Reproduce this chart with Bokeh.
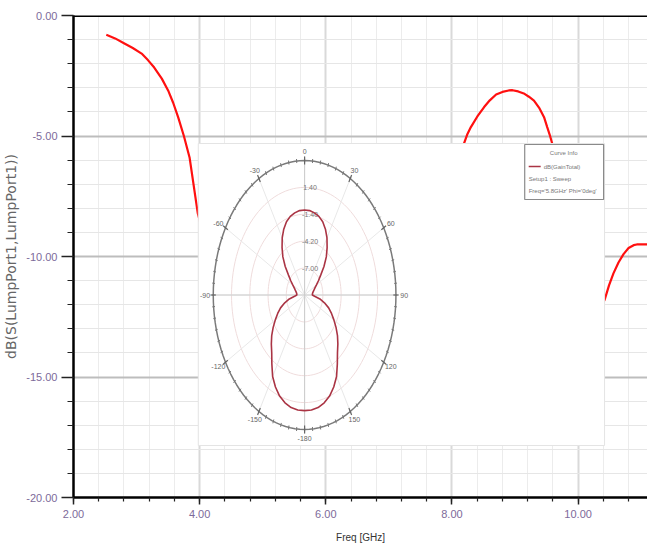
import numpy as np
from bokeh.plotting import figure
from bokeh.models import Range1d, FixedTicker, Span
from bokeh.core.properties import value
from bokeh.embed import file_html
from bokeh.resources import INLINE

# ---------------- main S11 sweep ----------------
freq_ghz = [2.52, 2.66, 2.80, 2.94, 3.08, 3.18, 3.28, 3.40, 3.50, 3.58, 3.66, 3.75, 3.84, 3.97,
            4.30, 4.80, 5.40, 5.80, 6.30, 6.80, 7.30, 7.80,
            8.19, 8.24, 8.30, 8.40, 8.51, 8.60, 8.70, 8.80, 8.90, 8.96, 9.05, 9.15, 9.22,
            9.30, 9.38, 9.46, 9.51, 9.55, 9.59,
            9.80, 10.00, 10.20, 10.30, 10.42, 10.49, 10.56, 10.64, 10.72, 10.80, 10.88, 10.93, 11.10]
s11_db = [-0.80, -0.95, -1.15, -1.35, -1.58, -1.85, -2.16, -2.62, -3.11, -3.62, -4.23, -5.00, -5.89, -8.20,
          -11.5, -15.0, -16.5, -16.8, -15.0, -12.0, -9.0, -6.8,
          -5.32, -4.95, -4.63, -4.20, -3.80, -3.52, -3.28, -3.17, -3.11, -3.10, -3.15, -3.25, -3.37,
          -3.53, -3.82, -4.22, -4.63, -4.95, -5.32,
          -7.2, -10.0, -12.2, -12.3, -11.8, -11.2, -10.7, -10.25, -9.9, -9.65, -9.53, -9.5, -9.5]

x_ticks = [2, 4, 6, 8, 10]
x_tick_labels = ["2.00", "4.00", "6.00", "8.00", "10.00"]
y_ticks = [0, -5, -10, -15, -20]
y_tick_labels = ["0.00", "-5.00", "-10.00", "-15.00", "-20.00"]

# ---------------- inset radiation pattern ----------------
theta_deg = list(range(-180, 181, 5))
gain_db = [2.24, 2.21, 2.10, 1.82, 1.40, 0.77, 0.00, -1.05, -1.96, -2.59, -3.22, -3.92,
           -4.62, -5.25, -5.88, -6.65, -7.42, -8.26, -8.61, -8.60, -8.54, -8.43, -8.26, -8.05,
           -7.70, -7.21, -6.58, -5.60, -4.62, -3.78, -2.94, -2.24, -1.68, -1.33, -1.12, -0.98,
           -0.95,
           -0.98, -1.12, -1.33, -1.68, -2.24, -2.94, -3.78, -4.62, -5.60, -6.58, -7.21, -7.70,
           -8.05, -8.26, -8.43, -8.54, -8.60, -8.61, -8.26, -7.42, -6.65, -5.88, -5.25, -4.62,
           -3.92, -3.22, -2.59, -1.96, -1.05, 0.00, 0.77, 1.40, 1.82, 2.10, 2.21, 2.24]
r_min_db, r_max_db = -9.80, 4.20
ring_values = [-7.00, -4.20, -1.40, 1.40]
ring_labels = ["-7.00", "-4.20", "-1.40", "1.40"]
angle_ticks = [0, 30, 60, 90, 120, 150, 180, -150, -120, -90, -60, -30]
angle_labels = ["0", "30", "60", "90", "120", "150", "-180", "-150", "-120", "-90", "-60", "-30"]
legend_lines = ["dB(GainTotal)", "Setup1 : Sweep", "Freq='5.8GHz' Phi='0deg'"]

# ---------------- layout constants (screen px) ----------------
FR_L, FR_R, FR_T, FR_B = 72, 647, 15, 497
CX, CY, RX, RY = 303.5, 294.5, 91.5, 134.5
SANS = "Liberation Sans"

p = figure(width=647, height=548,
           x_range=Range1d(2, 11.1), y_range=Range1d(-20, 0),
           output_backend="svg", toolbar_location=None,
           min_border_left=72, min_border_right=0, min_border_top=15, min_border_bottom=51)
p.outline_line_color = None
p.background_fill_color = "white"
p.border_fill_color = "white"

# axes
p.xaxis.ticker = FixedTicker(ticks=x_ticks, minor_ticks=[2 + 0.4 * i for i in range(24)])
p.yaxis.ticker = FixedTicker(ticks=y_ticks, minor_ticks=[-float(i) for i in range(21)])
p.xaxis.major_label_overrides = dict(zip(x_ticks, x_tick_labels))
p.yaxis.major_label_overrides = dict(zip(y_ticks, y_tick_labels))
for ax in (p.xaxis, p.yaxis):
    ax.axis_line_color = "black"
    ax.axis_line_width = 2.5
    ax.major_tick_line_color = "#222222"
    ax.minor_tick_line_color = "#222222"
    ax.major_tick_line_width = 1.5
    ax.minor_tick_line_width = 1.2
    ax.major_tick_in = 0
    ax.minor_tick_in = 0
    ax.major_label_text_font = SANS
    ax.major_label_text_font_size = "11px"
    ax.major_label_text_color = "#7d6a9a"
    ax.axis_label_text_font_style = "normal"
p.yaxis.major_tick_out = 12
p.yaxis.minor_tick_out = 6
p.yaxis.major_label_standoff = 4
p.xaxis.major_tick_out = 7
p.xaxis.minor_tick_out = 4
p.xaxis.major_label_standoff = 5
p.xaxis.axis_label = "Freq [GHz]"
p.xaxis.axis_label_text_font = SANS
p.xaxis.axis_label_text_font_size = "10px"
p.xaxis.axis_label_text_color = "#333333"
p.xaxis.axis_label_standoff = 11
p.yaxis.axis_label = "dB(S(LumpPort1,LumpPort1))"
p.yaxis.axis_label_text_font = "DejaVu Sans"
p.yaxis.axis_label_text_font_size = "14px"
p.yaxis.axis_label_text_color = "#666666"
p.yaxis.axis_label_standoff = 4

# grid
p.xgrid.grid_line_color = "#d9d9d9"
p.xgrid.grid_line_width = 2
p.xgrid.minor_grid_line_color = "#ececec"
p.xgrid.minor_grid_line_width = 1
p.ygrid.grid_line_color = "#bdbdbd"
p.ygrid.grid_line_width = 2
p.ygrid.minor_grid_line_color = "#e6e6e6"
p.ygrid.minor_grid_line_width = 1

p.add_layout(Span(location=0, dimension="width", line_color="black", line_width=3))

# main curve
p.line(freq_ghz, s11_db, line_color="#ff1010", line_width=2.2)

# inset coordinate system (polar unit circle stretched into an ellipse)
p.extra_x_ranges = {"px": Range1d((FR_L - CX) / RX, (FR_R - CX) / RX)}
p.extra_y_ranges = {"py": Range1d((CY - FR_B) / RY, (CY - FR_T) / RY)}
kw = dict(x_range_name="px", y_range_name="py")

def sx(px):
    return (px - CX) / RX

def sy(py):
    return (CY - py) / RY

# inset white panel
p.quad(left=[sx(197)], right=[sx(604)], top=[sy(143)], bottom=[sy(445)],
       fill_color="white", line_color="#e4e4e4", line_width=1, **kw)

def rnorm(v):
    return (np.asarray(v, dtype=float) - r_min_db) / (r_max_db - r_min_db)

phi = np.radians(np.arange(0, 361, 3))
# rings
ring_r = rnorm(ring_values)
p.multi_line([list(r * np.sin(phi)) for r in ring_r], [list(r * np.cos(phi)) for r in ring_r],
             line_color="#efdcdc", line_width=1, **kw)
# spokes
sp = np.radians(angle_ticks)
p.multi_line([[0, np.sin(a)] for a in sp], [[0, np.cos(a)] for a in sp],
             line_color="#e8e8e8", line_width=1, **kw)
ax4 = np.radians([0, 90, 180, -90])
p.multi_line([[0, 1.03 * np.sin(a)] for a in ax4], [[0, 1.03 * np.cos(a)] for a in ax4],
             line_color="#cccccc", line_width=1, **kw)
# outer ellipse with tick marks
p.line(list(np.sin(phi)), list(np.cos(phi)), line_color="#7a7a7a", line_width=1.5, **kw)
tk = np.radians(np.arange(0, 360, 5))
p.segment(x0=list(0.985 * np.sin(tk)), y0=list(0.985 * np.cos(tk)),
          x1=list(1.015 * np.sin(tk)), y1=list(1.015 * np.cos(tk)),
          line_color="#777777", line_width=1, **kw)
p.segment(x0=list(0.97 * np.sin(sp)), y0=list(0.97 * np.cos(sp)),
          x1=list(1.03 * np.sin(sp)), y1=list(1.03 * np.cos(sp)),
          line_color="#666666", line_width=1.2, **kw)
# angle labels
p.text(x=list(1.09 * np.sin(sp)), y=list(1.065 * np.cos(sp)), text=angle_labels,
       text_align="center", text_baseline="middle", text_font=value(SANS),
       text_font_size="7px", text_color="#666666", **kw)
# ring labels
p.text(x=[0.06] * len(ring_r), y=list(ring_r), text=ring_labels,
       text_align="center", text_baseline="middle", text_font=value(SANS),
       text_font_size="7px", text_color="#777777", **kw)
# pattern
tr = np.radians(theta_deg)
rr = rnorm(gain_db)
p.line(list(rr * np.sin(tr)), list(rr * np.cos(tr)), line_color="#aa3444", line_width=1.6, **kw)

# inset legend
p.quad(left=[sx(524)], right=[sx(603)], top=[sy(144)], bottom=[sy(199)],
       fill_color="white", line_color="#8a8a8a", line_width=1.2, **kw)
p.text(x=[sx(563)], y=[sy(152)], text=["Curve Info"], text_align="center", text_baseline="middle",
       text_font=value(SANS), text_font_size="6px", text_color="#777777", **kw)
p.segment(x0=[sx(528)], y0=[sy(166)], x1=[sx(540)], y1=[sy(166)], line_color="#aa3444", line_width=1.5, **kw)
p.text(x=[sx(543), sx(528), sx(528)], y=[sy(166), sy(178), sy(190)], text=legend_lines,
       text_align="left", text_baseline="middle",
       text_font=value(SANS), text_font_size="6px", text_color="#777777", **kw)

open("out.html", "w").write(file_html(p, INLINE))
